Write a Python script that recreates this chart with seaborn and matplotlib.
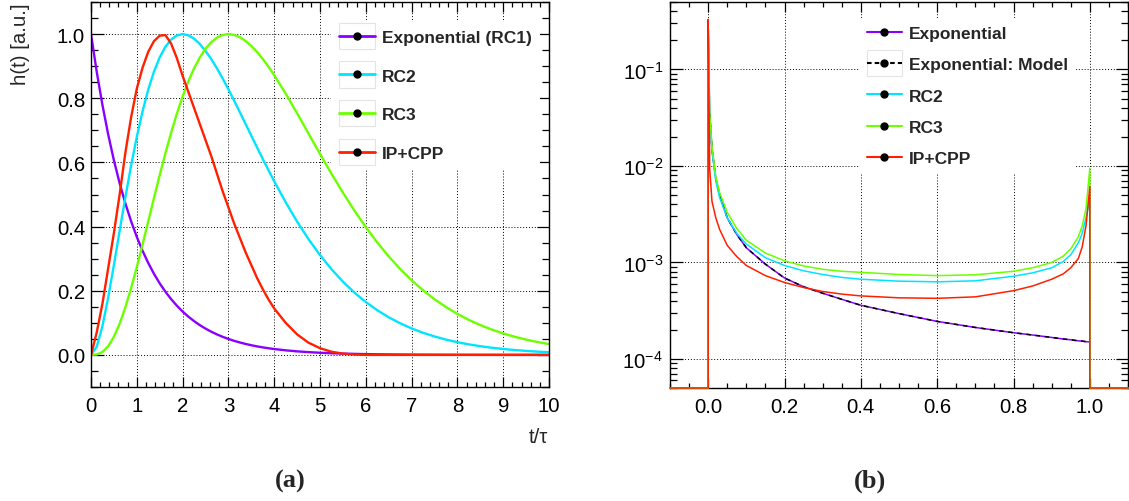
import numpy as np
import pandas as pd
import matplotlib
matplotlib.use("Agg")
import matplotlib.pyplot as plt
from matplotlib.lines import Line2D
from matplotlib.patches import Rectangle
from matplotlib.legend_handler import HandlerLine2D
from matplotlib.ticker import (MultipleLocator, FormatStrFormatter, LogLocator,
                               NullFormatter, LogFormatterSciNotation)
import seaborn as sns

# ---------------- (a) impulse responses h(t) ----------------
t_tau = [0.0, 0.125, 0.25, 0.375, 0.5, 0.625, 0.75, 0.875, 1.0, 1.125, 1.25,
         1.375, 1.5, 1.625, 1.75, 1.875, 2.0, 2.125, 2.25, 2.375, 2.5, 2.625,
         2.75, 2.875, 3.0, 3.125, 3.25, 3.375, 3.5, 3.625, 3.75, 3.875, 4.0,
         4.25, 4.5, 4.75, 5.0, 5.25, 5.5, 5.75, 6.0, 6.25, 6.5, 6.75, 7.0,
         7.25, 7.5, 7.75, 8.0, 8.25, 8.5, 8.75, 9.0, 9.25, 9.5, 9.75, 10.0]
h_rc1 = [1.0, 0.8825, 0.7788, 0.6873, 0.6065, 0.5353, 0.4724, 0.4169, 0.3679,
         0.3247, 0.2865, 0.2528, 0.2231, 0.1969, 0.1738, 0.1534, 0.1353, 0.1194,
         0.1054, 0.0930, 0.0821, 0.0724, 0.0639, 0.0564, 0.0498, 0.0439, 0.0388,
         0.0342, 0.0302, 0.0266, 0.0235, 0.0208, 0.0183,
         0.0143, 0.0111, 0.0087, 0.0067, 0.0052, 0.0041, 0.0032, 0.0025,
         0.0019, 0.0015, 0.0012, 0.0009, 0.0007, 0.0006, 0.0004, 0.0003,
         0.0003, 0.0002, 0.0002, 0.0001, 0.0001, 0.0001, 0.0001, 0.0]
h_rc2 = [0.0, 0.0255, 0.0899, 0.1785, 0.2801, 0.3862, 0.4908, 0.5896, 0.6796,
         0.7590, 0.8269, 0.8830, 0.9274, 0.9605, 0.9831, 0.9959, 1.0, 0.9963,
         0.9857, 0.9692, 0.9477, 0.9221, 0.8931, 0.8615, 0.8277, 0.7927, 0.7566,
         0.7199, 0.6834, 0.6469, 0.6109, 0.5759, 0.5413,
         0.4760, 0.4155, 0.3606, 0.3112, 0.2673, 0.2284, 0.1944, 0.1648,
         0.1393, 0.1173, 0.0986, 0.0825, 0.0690, 0.0575, 0.0478, 0.0397,
         0.0328, 0.0272, 0.0224, 0.0185, 0.0152, 0.0125, 0.0102, 0.0084]
h_rc3 = [0.0, 0.0013, 0.0091, 0.0270, 0.0564, 0.0972, 0.1482, 0.2078, 0.2737,
         0.3439, 0.4163, 0.4890, 0.5602, 0.6286, 0.6928, 0.7520, 0.8054, 0.8526,
         0.8931, 0.9269, 0.9541, 0.9747, 0.9890, 0.9973, 1.0, 0.9975, 0.9902,
         0.9786, 0.9631, 0.9444, 0.9226, 0.8984, 0.8720,
         0.8146, 0.7531, 0.6898, 0.6266, 0.5649, 0.5058, 0.4501, 0.3983,
         0.3506, 0.3071, 0.2679, 0.2327, 0.2013, 0.1736, 0.1492, 0.1278,
         0.1091, 0.0930, 0.0790, 0.0669, 0.0566, 0.0477, 0.0402, 0.0338]
h_ipcpp = [0.0, 0.07, 0.16, 0.27, 0.38, 0.50, 0.63, 0.74, 0.83, 0.895, 0.945,
           0.978, 0.995, 0.997, 0.97, 0.925, 0.87, 0.82, 0.77, 0.72, 0.67,
           0.62, 0.565, 0.51, 0.46, 0.41, 0.365, 0.32, 0.28, 0.24, 0.205, 0.173,
           0.145,
           0.10, 0.064, 0.038, 0.021, 0.010, 0.004, 0.001, 0.0,
           0.0, 0.0, 0.0, 0.0, 0.0, 0.0, 0.0, 0.0,
           0.0, 0.0, 0.0, 0.0, 0.0, 0.0, 0.0, 0.0]
labels_a = ["Exponential (RC1)", "RC2", "RC3", "IP+CPP"]

# ---------------- (b) amplitude distributions ----------------
nan = np.nan
amp = [-0.1, 0.0, 0.0, 0.004, 0.01, 0.02, 0.03, 0.05, 0.075, 0.1, 0.15, 0.2,
       0.25, 0.3, 0.35, 0.4, 0.5, 0.6, 0.7, 0.8, 0.85, 0.9, 0.93, 0.95, 0.97,
       0.98, 0.99, 1.0, 1.0, 1.1]
p_exp = [0.0, 0.0, 0.30, 0.035, 0.015, 7.4e-3, 5.0e-3, 2.9e-3, 1.95e-3, 1.42e-3,
         9.6e-4, 6.9e-4, 5.6e-4, 4.8e-4, 4.15e-4, 3.6e-4, 2.95e-4, 2.45e-4,
         2.12e-4, 1.87e-4, 1.77e-4, 1.67e-4, 1.61e-4, 1.58e-4, 1.54e-4, 1.53e-4,
         1.51e-4, 1.5e-4, 1.0e-4, nan]
p_exp_model = [nan, nan, nan, 0.035, 0.015, 7.4e-3, 5.0e-3, 2.9e-3, 1.95e-3,
               1.42e-3, 9.6e-4, 6.9e-4, 5.6e-4, 4.8e-4, 4.15e-4, 3.6e-4, 2.95e-4,
               2.45e-4, 2.12e-4, 1.87e-4, 1.77e-4, 1.67e-4, 1.61e-4, 1.58e-4,
               1.54e-4, 1.53e-4, 1.51e-4, 1.5e-4, nan, nan]
p_rc2 = [0.0, 0.0, 0.30, 0.030, 0.014, 7.0e-3, 4.7e-3, 2.9e-3, 2.0e-3, 1.55e-3,
         1.12e-3, 9.3e-4, 8.2e-4, 7.5e-4, 7.0e-4, 6.7e-4, 6.4e-4, 6.3e-4, 6.45e-4,
         7.2e-4, 7.8e-4, 8.8e-4, 1.02e-3, 1.2e-3, 1.6e-3, 2.0e-3, 2.9e-3, 4.5e-3,
         0.0, 0.0]
p_rc3 = [0.0, 0.0, 0.30, 0.035, 0.016, 7.8e-3, 5.3e-3, 3.3e-3, 2.25e-3, 1.7e-3,
         1.25e-3, 1.04e-3, 9.2e-4, 8.5e-4, 8.1e-4, 7.9e-4, 7.5e-4, 7.3e-4,
         7.45e-4, 8.1e-4, 8.8e-4, 1.0e-3, 1.16e-3, 1.38e-3, 1.85e-3, 2.4e-3,
         3.6e-3, 9.5e-3, 0.0, 0.0]
p_ipcpp = [0.0, 0.0, 0.33, 9.3e-3, 4.3e-3, 2.9e-3, 2.2e-3, 1.5e-3, 1.15e-3,
           9.3e-4, 7.3e-4, 6.2e-4, 5.5e-4, 5.0e-4, 4.7e-4, 4.5e-4, 4.3e-4,
           4.25e-4, 4.4e-4, 5.1e-4, 5.7e-4, 6.7e-4, 7.6e-4, 8.8e-4, 1.1e-3,
           1.45e-3, 2.4e-3, 6.1e-3, 0.0, 0.0]
labels_b = ["Exponential", "Exponential: Model", "RC2", "RC3", "IP+CPP"]

C_VIOLET = "#8a00ff"
C_CYAN = "#00e4ff"
C_GREEN = "#6cff00"
C_RED = "#ff2000"

# ---------------- style ----------------
sns.set_theme(style="ticks")
plt.rcParams["font.family"] = ["Liberation Sans", "DejaVu Sans"]
plt.rcParams["mathtext.fontset"] = "custom"
plt.rcParams["mathtext.rm"] = "Liberation Sans"
plt.rcParams["mathtext.it"] = "Liberation Sans:italic"
plt.rcParams["mathtext.bf"] = "Liberation Sans:bold"
plt.rcParams["axes.unicode_minus"] = True

W, H = 1129, 502
fig = plt.figure(figsize=(W / 100, H / 100), dpi=100)
fig.patch.set_facecolor("white")


def px_axes(x0, y0, x1, y1):
    return fig.add_axes([x0 / W, 1 - y1 / H, (x1 - x0) / W, (y1 - y0) / H])


ax_a = px_axes(91, 3, 549, 388)
ax_b = px_axes(670, 3, 1128, 389)

LBL = 14.7


def frame(ax, pad_y):
    ax.set_facecolor("white")
    for s in ax.spines.values():
        s.set_linewidth(1.0)
        s.set_color("black")
    ax.tick_params(which="both", direction="in", top=True, right=True,
                   width=0.9, color="black", labelsize=LBL, labelcolor="black")
    ax.tick_params(axis="y", which="major", length=9.0, pad=pad_y)
    ax.tick_params(axis="y", which="minor", length=4.8)
    ax.tick_params(axis="x", which="major", length=7.3, pad=6.5)
    ax.tick_params(axis="x", which="minor", length=3.9)
    ax.set_axisbelow(True)
    ax.grid(True, which="major", color="black", linestyle=(0, (1, 2)),
            linewidth=0.7)
    ax.grid(False, which="minor")


class BoxedLine(HandlerLine2D):
    """Legend symbol with a faint frame around it."""

    def create_artists(self, legend, orig_handle, xdescent, ydescent, width,
                       height, fontsize, trans):
        arts = super().create_artists(legend, orig_handle, xdescent, ydescent,
                                      width, height, fontsize, trans)
        pad = 0.4 * fontsize
        box = Rectangle((-xdescent, -ydescent - pad), width, height + 2 * pad,
                        fill=False, edgecolor="#e4e4e4", linewidth=0.8,
                        transform=trans)
        return [box] + list(arts)


def sym(color, ls="-", lw=2.0):
    return Line2D([], [], color=color, linestyle=ls, linewidth=lw, marker="o",
                  markersize=5, markerfacecolor="black",
                  markeredgecolor="black")


LEG_PROP = {"family": ["Liberation Sans", "DejaVu Sans"], "weight": "bold",
            "size": 12.5}

# ---------------- panel (a) ----------------
df_a = pd.DataFrame({"t": t_tau, "RC1": h_rc1, "RC2": h_rc2, "RC3": h_rc3,
                     "IPCPP": h_ipcpp})
for col, c in [("RC1", C_VIOLET), ("RC2", C_CYAN), ("RC3", C_GREEN),
               ("IPCPP", C_RED)]:
    sns.lineplot(data=df_a, x="t", y=col, ax=ax_a, color=c, linewidth=1.7,
                 sort=False, estimator=None, legend=False)

frame(ax_a, pad_y=4.3)
ax_a.set_xlim(0, 10)
ax_a.set_ylim(-0.1, 1.1)
ax_a.xaxis.set_major_locator(MultipleLocator(1))
ax_a.xaxis.set_minor_locator(MultipleLocator(0.2))
ax_a.yaxis.set_major_locator(MultipleLocator(0.2))
ax_a.yaxis.set_minor_locator(MultipleLocator(0.05))
ax_a.xaxis.set_major_formatter(FormatStrFormatter("%d"))
ax_a.yaxis.set_major_formatter(FormatStrFormatter("%.1f"))
ax_a.set_xlabel("")
ax_a.set_ylabel("")

leg_a = ax_a.legend(
    [sym(C_VIOLET), sym(C_CYAN), sym(C_GREEN), sym(C_RED)], labels_a,
    loc="upper left", bbox_to_anchor=(331 / W, 1 - 23 / H),
    bbox_transform=fig.transFigure, frameon=True, fancybox=False,
    facecolor="white", edgecolor="none", framealpha=1.0, borderpad=0.45,
    borderaxespad=0, handlelength=2.07, handletextpad=0.42, labelspacing=1.35,
    numpoints=1, prop=LEG_PROP, handler_map={Line2D: BoxedLine()})
leg_a.set_zorder(5)

fig.text(20 / W, 1 - 3 / H, "h(t) [a.u.]", rotation=90, ha="center",
         va="top", fontsize=LBL)
fig.text(548 / W, 1 - 438 / H, "t/τ", ha="right", va="center", fontsize=LBL)

# ---------------- panel (b) ----------------
Y_LO, Y_HI = 5e-5, 0.5
ax_b.set_yscale("log")
ax_b.set_xlim(-0.1, 1.1)
ax_b.set_ylim(Y_LO, Y_HI)

series_b = [(p_exp, C_VIOLET, "-"), (p_exp_model, "black", (0, (3, 3))),
            (p_rc2, C_CYAN, "-"), (p_rc3, C_GREEN, "-"),
            (p_ipcpp, C_RED, "-")]
for vals, c, ls in series_b:
    d = pd.DataFrame({"x": amp, "y": vals}).dropna()
    # empty bins sit on the lower edge of the logarithmic frame
    d["y"] = np.where(d["y"] > 0, d["y"], Y_LO)
    sns.lineplot(data=d, x="x", y="y", ax=ax_b, color=c, linewidth=1.1,
                 linestyle=ls, sort=False, estimator=None, legend=False,
                 clip_on=False, zorder=3)

frame(ax_b, pad_y=5.0)
ax_b.set_xlim(-0.1, 1.1)
ax_b.set_ylim(Y_LO, Y_HI)
ax_b.xaxis.set_major_locator(MultipleLocator(0.2))
ax_b.xaxis.set_minor_locator(MultipleLocator(0.05))
ax_b.xaxis.set_major_formatter(FormatStrFormatter("%.1f"))
ax_b.yaxis.set_major_locator(LogLocator(base=10, numticks=10))
ax_b.yaxis.set_minor_locator(LogLocator(base=10, subs=np.arange(2, 10),
                                        numticks=20))
ax_b.yaxis.set_major_formatter(LogFormatterSciNotation())
ax_b.yaxis.set_minor_formatter(NullFormatter())
ax_b.set_xlabel("")
ax_b.set_ylabel("")

model_sym = sym("black", ls=(0, (2.2, 1.5)), lw=1.5)
leg_b = ax_b.legend(
    [sym(C_VIOLET, lw=1.5), model_sym, sym(C_CYAN, lw=1.5),
     sym(C_GREEN, lw=1.5), sym(C_RED, lw=1.5)], labels_b,
    loc="upper left", bbox_to_anchor=(859 / W, 1 - 19 / H),
    bbox_transform=fig.transFigure, frameon=True, fancybox=False,
    facecolor="white", edgecolor="none", framealpha=1.0, borderpad=0.45,
    borderaxespad=0, handlelength=2.0, handletextpad=0.42, labelspacing=0.93,
    numpoints=1, prop=LEG_PROP, handler_map={model_sym: BoxedLine()})
leg_b.set_zorder(5)

# ---------------- sub-captions ----------------
cap = {"family": ["Liberation Serif", "DejaVu Serif"], "weight": "bold",
       "size": 19}
fig.text(290 / W, 1 - 481 / H, "(a)", ha="center", va="center", **cap)
fig.text(870 / W, 1 - 481 / H, "(b)", ha="center", va="center", **cap)

fig.savefig("out.png", dpi=100, facecolor="white")
